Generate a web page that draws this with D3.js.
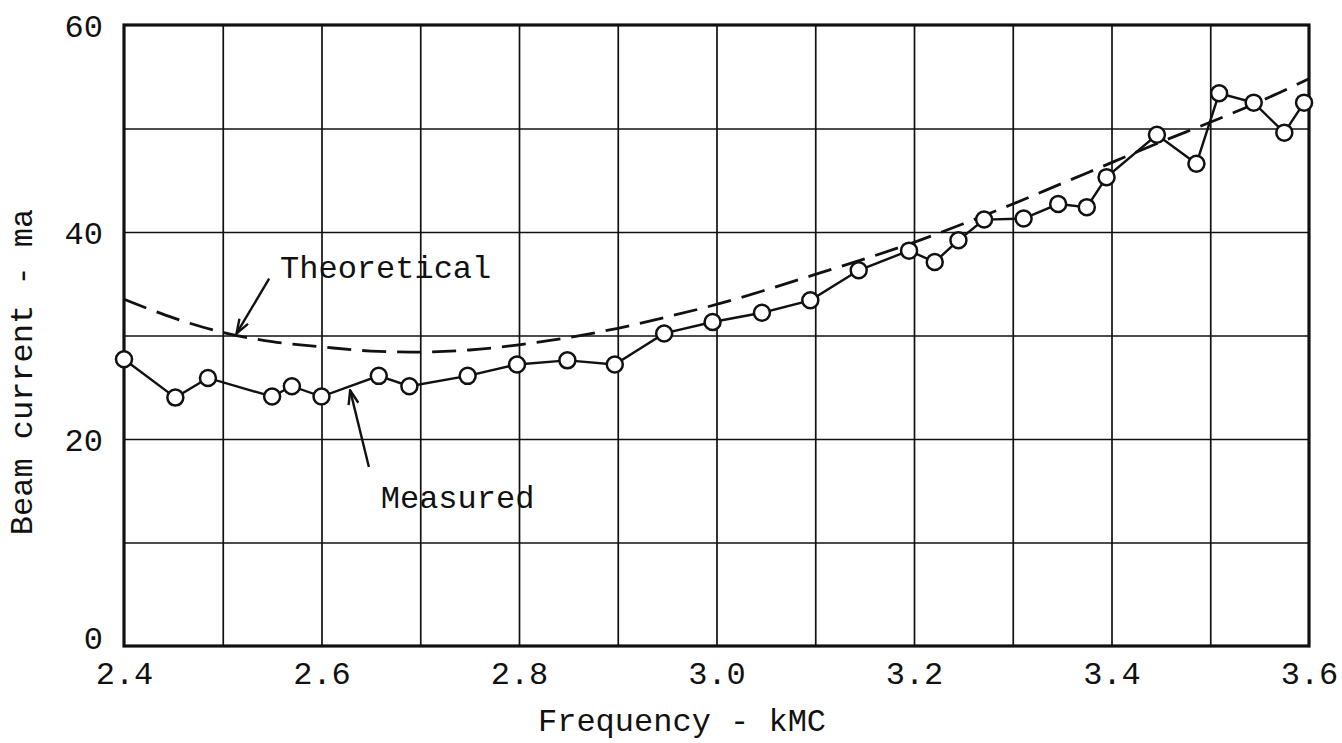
<!DOCTYPE html>
<html>
<head>
<meta charset="utf-8">
<script src="https://cdn.jsdelivr.net/npm/d3@7"></script>
<style>
  body { margin: 0; background: #fff; }
  text { font-family: "Liberation Mono", "DejaVu Sans Mono", monospace; fill: #111; }
</style>
</head>
<body>
<div id="chart"></div>
<script>
// measured beam current (ma) vs frequency (kMC)
var measFreq = [2.400, 2.452, 2.485, 2.550, 2.570, 2.600, 2.658, 2.689, 2.748, 2.798,
                2.849, 2.897, 2.947, 2.996, 3.046, 3.095, 3.144, 3.195, 3.221, 3.245,
                3.271, 3.311, 3.346, 3.375, 3.395, 3.446, 3.486, 3.509, 3.544, 3.575, 3.595];
var measCurrent = [27.7, 24.0, 25.9, 24.1, 25.1, 24.1, 26.1, 25.1, 26.1, 27.2,
                   27.6, 27.2, 30.2, 31.3, 32.2, 33.4, 36.3, 38.2, 37.1, 39.2,
                   41.2, 41.3, 42.7, 42.4, 45.3, 49.4, 46.6, 53.4, 52.5, 49.6, 52.5];

// theoretical curve
var theoFreq = [2.40, 2.45, 2.50, 2.55, 2.60, 2.65, 2.70, 2.75, 2.80, 2.85, 2.90, 2.95, 3.00,
                3.05, 3.10, 3.15, 3.20, 3.25, 3.30, 3.35, 3.40, 3.45, 3.50, 3.55, 3.60];
var theoCurrent = [33.5, 31.7, 30.3, 29.4, 28.9, 28.5, 28.4, 28.6, 29.1, 29.8, 30.7, 31.8, 33.0,
                   34.4, 35.9, 37.4, 39.0, 40.8, 42.7, 44.7, 46.7, 48.7, 50.6, 52.6, 54.8];

var xTicks = [2.4, 2.6, 2.8, 3.0, 3.2, 3.4, 3.6];
var xGrid = [2.5, 2.6, 2.7, 2.8, 2.9, 3.0, 3.1, 3.2, 3.3, 3.4, 3.5];
var yTicks = [0, 20, 40, 60];
var yGrid = [10, 20, 30, 40, 50];

// annotation labels and arrows: [tailFreq, tailCurrent, tipFreq, tipCurrent]
var notes = [
  { label: "Theoretical", at: [2.558, 35.6], arrow: [2.547, 35.5, 2.514, 30.2] },
  { label: "Measured",    at: [2.660, 13.3], arrow: [2.648, 17.3, 2.629, 24.7] }
];

var margin = {top: 25, right: 33, bottom: 97, left: 124},
    width = 1342 - margin.left - margin.right,
    height = 743 - margin.top - margin.bottom;

var svg = d3.select("#chart")
  .append("svg")
    .attr("width", 1342)
    .attr("height", 743)
  .append("g")
    .attr("transform", "translate(" + margin.left + "," + margin.top + ")");

var x = d3.scaleLinear().domain([2.4, 3.6]).range([0, width]);
var y = d3.scaleLinear().domain([0, 60]).range([height, 0]);

// grid
svg.append("g")
  .attr("class", "grid")
  .attr("transform", "translate(0," + height + ")")
  .call(d3.axisBottom(x).tickValues(xGrid).tickSize(-height).tickFormat(""))
  .call(function(g) { g.select(".domain").remove(); })
  .selectAll("line").attr("stroke", "#111").attr("stroke-width", 1.7);

svg.append("g")
  .attr("class", "grid")
  .call(d3.axisLeft(y).tickValues(yGrid).tickSize(-width).tickFormat(""))
  .call(function(g) { g.select(".domain").remove(); })
  .selectAll("line").attr("stroke", "#111").attr("stroke-width", 1.7);

// frame
svg.append("rect")
  .attr("x", 0).attr("y", 0)
  .attr("width", width).attr("height", height)
  .attr("fill", "none")
  .attr("stroke", "#111")
  .attr("stroke-width", 3.2);

// X axis labels
var xAxis = svg.append("g")
  .attr("transform", "translate(0," + height + ")")
  .call(d3.axisBottom(x).tickValues(xTicks).tickSize(0).tickFormat(d3.format(".1f")));
xAxis.select(".domain").remove();
xAxis.selectAll("text")
  .attr("y", 38)
  .attr("dy", 0)
  .attr("font-size", 32)
  .style("font-family", "Liberation Mono");

// Y axis labels
var yAxis = svg.append("g")
  .call(d3.axisLeft(y).tickValues(yTicks).tickSize(0));
yAxis.select(".domain").remove();
yAxis.selectAll("text")
  .attr("x", -21)
  .attr("dy", function(d) { return d === 0 ? 2 : 11; })
  .attr("font-size", 32)
  .style("font-family", "Liberation Mono");

// theoretical (dashed)
var theoData = theoFreq.map(function(f, i) { return [f, theoCurrent[i]]; });
svg.append("path")
  .datum(theoData)
  .attr("fill", "none")
  .attr("stroke", "#111")
  .attr("stroke-width", 2.8)
  .attr("stroke-dasharray", "24,11")
  .attr("d", d3.line()
    .x(function(d) { return x(d[0]); })
    .y(function(d) { return y(d[1]); })
    .curve(d3.curveCatmullRom));

// measured line + circles
var measData = measFreq.map(function(f, i) { return [f, measCurrent[i]]; });
svg.append("path")
  .datum(measData)
  .attr("fill", "none")
  .attr("stroke", "#111")
  .attr("stroke-width", 2.4)
  .attr("d", d3.line()
    .x(function(d) { return x(d[0]); })
    .y(function(d) { return y(d[1]); }));

svg.selectAll(".pt")
  .data(measData)
  .enter()
  .append("circle")
    .attr("class", "pt")
    .attr("cx", function(d) { return x(d[0]); })
    .attr("cy", function(d) { return y(d[1]); })
    .attr("r", 8)
    .attr("fill", "#fff")
    .attr("stroke", "#111")
    .attr("stroke-width", 2.5);

// arrowhead
svg.append("defs").append("marker")
    .attr("id", "arrow")
    .attr("viewBox", "0 0 16 12")
    .attr("refX", 15)
    .attr("refY", 6)
    .attr("markerUnits", "userSpaceOnUse")
    .attr("markerWidth", 16)
    .attr("markerHeight", 12)
    .attr("orient", "auto")
  .append("path")
    .attr("d", "M1,1 L15,6 L1,11")
    .attr("fill", "none")
    .attr("stroke", "#111")
    .attr("stroke-width", 2.4);

notes.forEach(function(n) {
  svg.append("line")
    .attr("x1", x(n.arrow[0])).attr("y1", y(n.arrow[1]))
    .attr("x2", x(n.arrow[2])).attr("y2", y(n.arrow[3]))
    .attr("stroke", "#111")
    .attr("stroke-width", 2.4)
    .attr("marker-end", "url(#arrow)");
  svg.append("text")
    .attr("x", x(n.at[0]))
    .attr("y", y(n.at[1]))
    .attr("font-size", 32)
    .text(n.label);
});

// axis titles
svg.append("text")
  .attr("x", 538 - margin.left)
  .attr("y", height + 85)
  .attr("font-size", 32)
  .text("Frequency - kMC");

svg.append("text")
  .attr("transform", "translate(" + (32 - margin.left) + "," + (372 - margin.top) + ") rotate(-90)")
  .style("text-anchor", "middle")
  .attr("font-size", 32)
  .text("Beam current - ma");
</script>
</body>
</html>
